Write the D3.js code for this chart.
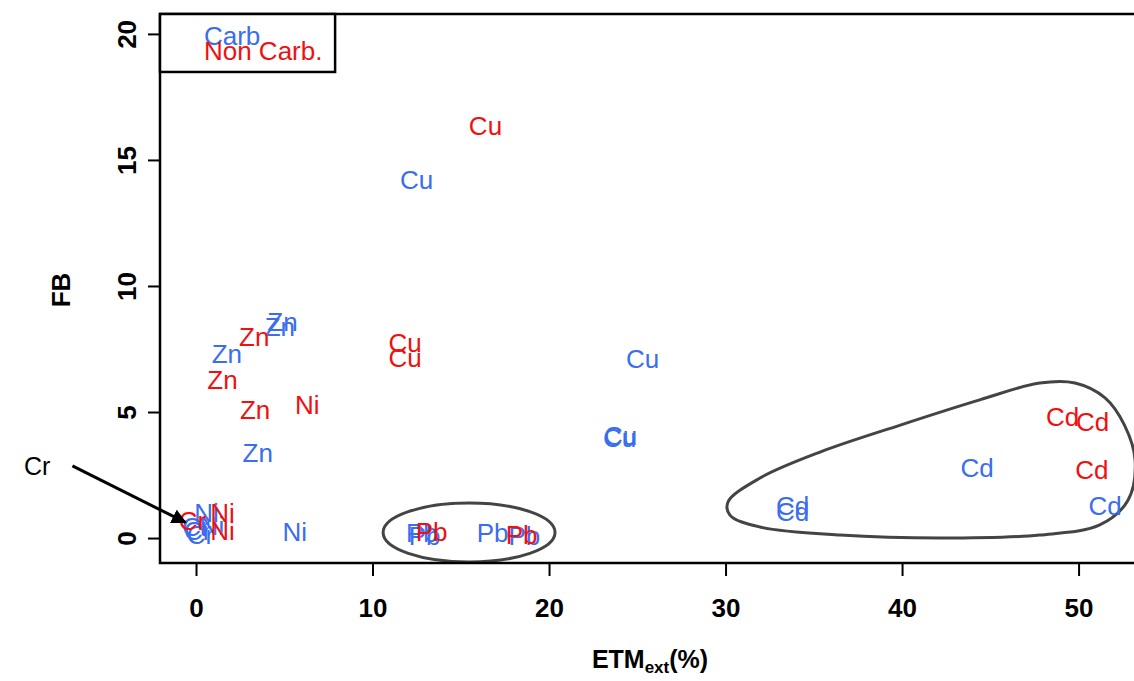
<!DOCTYPE html>
<html><head><meta charset="utf-8">
<script src="https://cdn.jsdelivr.net/npm/d3@7"></script>
<style>body{margin:0;background:#fff;overflow:hidden}</style>
</head><body>
<svg id="c" width="1134" height="681"></svg>
<script>
// ---- data ----
const carbLabels = ["Cu","Cu","Cu","Cu","Zn","Zn","Zn","Zn","Ni","Ni","Ni","Cr","Cr","Cr","Pb","Pb","Pb","Pb","Cd","Cd","Cd","Cd"];
const carbX = [12.5, 25.3, 24.0, 24.05, 4.9, 4.75, 1.75, 3.5, 5.6, 0.6, 0.9, 0.1, 0.25, 0.0, 12.8, 12.95, 16.8, 18.6, 44.25, 51.5, 33.8, 33.8];
const carbY = [14.2, 7.1, 4.0, 4.05, 8.6, 8.4, 7.3, 3.4, 0.25, 1.0, 0.5, 0.3, 0.15, 0.45, 0.2, 0.1, 0.2, 0.1, 2.8, 1.3, 1.3, 1.03];
const nonLabels = ["Cu","Cu","Cu","Zn","Zn","Zn","Ni","Ni","Ni","Cr","Pb","Pb","Cd","Cd","Cd"];
const nonX = [16.4, 11.85, 11.85, 3.3, 1.5, 3.35, 6.3, 1.5, 1.5, -0.2, 13.35, 18.45, 49.1, 50.8, 50.75];
const nonY = [16.35, 7.75, 7.15, 8.0, 6.3, 5.1, 5.3, 1.0, 0.3, 0.7, 0.25, 0.12, 4.8, 4.6, 2.7];
const xTicks = [0, 10, 20, 30, 40, 50];
const yTicks = [0, 5, 10, 15, 20];
const legendLabels = ["Carb", "Non Carb."];
// enclosing curves (data space)
const cdHullX = [30.14, 31.95, 35.35, 39.9, 44.4, 47.8, 49.8, 51.5, 52.6, 53.2, 52.8, 51.2, 47.8, 42.15, 36.5, 31.95, 30.25];
const cdHullY = [1.43, 2.38, 3.41, 4.48, 5.48, 6.15, 6.15, 5.56, 4.48, 3.1, 1.5, 0.52, 0.12, 0.0, 0.12, 0.44, 0.91];
const pbEllipse = {cx: 15.47, cy: 0.22, rx: 4.87, ry: 1.17};
const crArrow = {x0: -7.0, y0: 2.86, x1: -0.6, y1: 0.62, tx: -9.0, ty: 2.85};

const blue = "#3a6df0", red = "#f01010";
const svg = d3.select("#c");
const L = 160, R = 1158, T = 14, B = 563;
const x = d3.scaleLinear().domain([-2.04, 54.5]).range([L, R]);
const y = d3.scaleLinear().domain([-0.99, 20.79]).range([B, T]);
const tickFont = "'Liberation Sans Narrow','Arial Narrow','Liberation Sans',Arial,sans-serif";
const font = "'Liberation Sans',Arial,Helvetica,sans-serif";

svg.append("defs").append("marker").attr("id","ah").attr("viewBox","0 0 10 10")
  .attr("refX",9).attr("refY",5).attr("markerWidth",5).attr("markerHeight",5)
  .attr("orient","auto").append("path").attr("d","M0,0L10,5L0,10z").attr("fill","#000");

// axes
const xa = svg.append("g").attr("transform",`translate(0,${B})`)
  .call(d3.axisBottom(x).tickValues(xTicks).tickSize(13).tickPadding(23).tickFormat(d3.format("d")));
const ya = svg.append("g").attr("transform",`translate(${L},0)`)
  .call(d3.axisLeft(y).tickValues(yTicks).tickSize(12).tickPadding(8).tickFormat(d3.format("d")));
[xa, ya].forEach(g => {
  g.select(".domain").remove();
  g.selectAll(".tick line").attr("stroke","#000").attr("stroke-width",2);
  g.selectAll(".tick text").attr("fill","#000").style("font-family",tickFont)
    .style("font-size","26px").style("font-weight","bold");
});
ya.selectAll(".tick text").attr("transform","rotate(-90)")
  .attr("x",0).attr("y",-33).attr("text-anchor","middle").attr("dy","0.35em");

// clip for plot content
svg.append("clipPath").attr("id","pc").append("rect").attr("x",L).attr("y",T).attr("width",R-L).attr("height",B-T);
const g = svg.append("g").attr("clip-path","url(#pc)");

// enclosing curves
const hull = cdHullX.map((v,i)=>[x(v), y(cdHullY[i])]);
g.append("path").attr("d", d3.line().curve(d3.curveCatmullRomClosed.alpha(0.5))(hull))
  .attr("fill","none").attr("stroke","#444").attr("stroke-width",3);
svg.append("ellipse").attr("cx",x(pbEllipse.cx)).attr("cy",y(pbEllipse.cy))
  .attr("rx",x(pbEllipse.cx+pbEllipse.rx)-x(pbEllipse.cx)).attr("ry",y(pbEllipse.cy)-y(pbEllipse.cy+pbEllipse.ry))
  .attr("fill","none").attr("stroke","#444").attr("stroke-width",3);

// labels
function draw(labels, xs, ys, col){
  g.selectAll(null).data(labels).enter().append("text")
    .attr("x",(d,i)=>x(xs[i])).attr("y",(d,i)=>y(ys[i])).attr("dy","0.36em")
    .attr("text-anchor","middle").attr("fill",col)
    .style("font-family",font).style("font-size","26px").text(d=>d);
}
draw(carbLabels, carbX, carbY, blue);
draw(nonLabels, nonX, nonY, red);

// box
svg.append("rect").attr("x",L).attr("y",T).attr("width",R-L).attr("height",B-T)
  .attr("fill","none").attr("stroke","#000").attr("stroke-width",2.5);

// legend
const lx1 = x(7.88), ly1 = y(18.49);
svg.append("rect").attr("x",L).attr("y",T).attr("width",lx1-L).attr("height",ly1-T)
  .attr("fill","#fff").attr("stroke","#000").attr("stroke-width",2.5);
svg.selectAll(null).data(legendLabels).enter().append("text")
  .attr("x",x(0.45)).attr("y",(d,i)=>y(19.95 - i*0.6)).attr("dy","0.36em")
  .attr("fill",(d,i)=>i===0?blue:red).style("font-family",font).style("font-size","26px").text(d=>d);

// Cr annotation
svg.append("line").attr("x1",x(crArrow.x0)).attr("y1",y(crArrow.y0)).attr("x2",x(crArrow.x1)).attr("y2",y(crArrow.y1))
  .attr("stroke","#000").attr("stroke-width",3).attr("marker-end","url(#ah)");
svg.append("text").attr("x",x(crArrow.tx)).attr("y",y(crArrow.ty)).attr("dy","0.36em").attr("text-anchor","middle")
  .style("font-family",font).style("font-size","25px").attr("fill","#000").text("Cr");

// axis titles
const xt = svg.append("text").attr("x",650).attr("y",668).attr("text-anchor","middle")
  .style("font-family",tickFont).style("font-size","25px").style("font-weight","bold").attr("fill","#000");
xt.append("tspan").text("ETM");
xt.append("tspan").attr("dy",5).style("font-size","17px").text("ext");
xt.append("tspan").attr("dy",-5).text("(%)");
svg.append("text").attr("transform","translate(70,290) rotate(-90)").attr("text-anchor","middle")
  .style("font-family",tickFont).style("font-size","26px").style("font-weight","bold").attr("fill","#000").text("FB");
</script>
</body></html>
